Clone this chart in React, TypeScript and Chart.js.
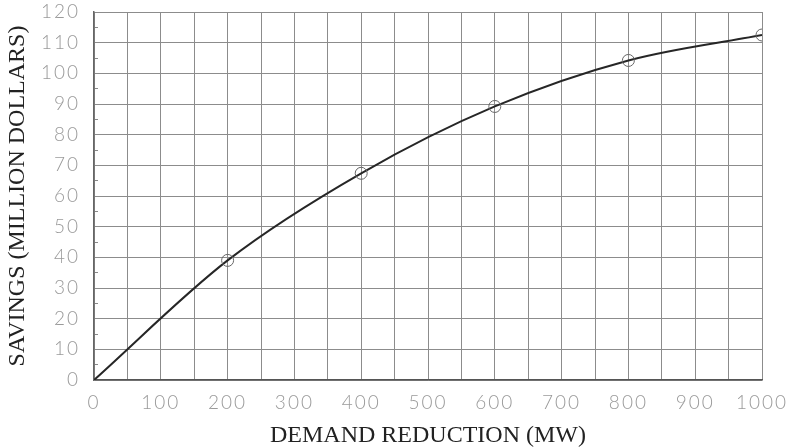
import React, { useEffect, useRef } from "react";
import { Chart, registerables } from "chart.js";

Chart.register(...registerables);

// Data
const demandMW: number[] = [0, 200, 400, 600, 800, 1000];
const savingsMillion: number[] = [0, 39, 67.4, 89.2, 104.2, 112.5];
const markerRadius: number[] = [0, 6, 6, 6, 6, 6];

const xTitle = "DEMAND REDUCTION (MW)";
const yTitle = "SAVINGS (MILLION DOLLARS)";

const tickSpacingPlugin = {
  id: "tickSpacing",
  afterDatasetsDraw(chart: any) {
    (chart.ctx as any).letterSpacing = "2px";
  },
  afterDraw(chart: any) {
    (chart.ctx as any).letterSpacing = "0px";
  },
};

export default function App() {
  const canvasRef = useRef<HTMLCanvasElement | null>(null);

  useEffect(() => {
    if (!canvasRef.current) return;
    const points = demandMW.map((x, i) => ({ x, y: savingsMillion[i] }));
    const gridColor = "#8c8c8c";
    const tickFont = { family: "Lato", size: 19, weight: 300 as any };
    const chart = new Chart(canvasRef.current, {
      type: "scatter",
      data: {
        datasets: [
          {
            data: points,
            showLine: true,
            borderColor: "#262626",
            borderWidth: 2,
            cubicInterpolationMode: "monotone",
            pointRadius: markerRadius,
            pointBorderColor: "#666",
            pointBorderWidth: 1,
            pointBackgroundColor: "rgba(0,0,0,0)",
            pointHoverRadius: markerRadius,
          } as any,
        ],
      },
      plugins: [tickSpacingPlugin],
      options: {
        animation: false,
        responsive: true,
        maintainAspectRatio: false,
        layout: { padding: { top: 12, right: 30, bottom: 0, left: 0 } },
        plugins: {
          legend: { display: false },
          tooltip: { enabled: false },
        },
        scales: {
          x: {
            type: "linear",
            min: 0,
            max: 1000,
            afterFit: (s: any) => {
              s.height = 68;
              s.paddingLeft = 0;
              s.paddingRight = 0;
            },
            ticks: {
              stepSize: 50,
              autoSkip: false,
              maxRotation: 0,
              z: 1,
              padding: 11,
              color: "#9a9a9a",
              font: tickFont,
              callback: (v: any) => (Number(v) % 100 === 0 ? String(v) : ""),
            },
            grid: {
              color: gridColor,
              lineWidth: 1,
              drawTicks: false,
            },
            border: { color: "#555", width: 1.5 },
            title: {
              display: true,
              text: xTitle,
              color: "#222",
              font: { family: "Liberation Serif", size: 24, lineHeight: 1 },
              padding: { top: 0, bottom: 0 },
            },
          },
          y: {
            type: "linear",
            min: 0,
            max: 120,
            afterFit: (s: any) => {
              s.width = 94;
              s.paddingTop = 0;
              s.paddingBottom = 0;
            },
            ticks: {
              stepSize: 5,
              autoSkip: false,
              z: 1,
              padding: 18,
              color: "#9a9a9a",
              font: tickFont,
              callback: (v: any) => (Number(v) % 10 === 0 ? String(v) : ""),
            },
            grid: {
              color: (ctx: any) =>
                ctx.tick && ctx.tick.value % 10 === 0 ? gridColor : "rgba(0,0,0,0)",
              tickColor: (ctx: any) =>
                ctx.tick && ctx.tick.value % 10 !== 0 ? "#888" : "rgba(0,0,0,0)",
              lineWidth: 1,
              drawTicks: true,
              tickLength: -4,
            },
            border: { color: "#666", width: 1.5 },
            title: {
              display: true,
              text: yTitle,
              color: "#222",
              font: { family: "Liberation Serif", size: 24, lineHeight: 1 },
              padding: { top: 6, bottom: 0 },
            },
          },
        },
      },
    });
    return () => chart.destroy();
  }, []);

  return (
    <div
      style={{
        position: "fixed",
        left: 0,
        top: 0,
        width: 792,
        height: 448,
        background: "#fff",
      }}
    >
      <canvas ref={canvasRef} />
    </div>
  );
}
